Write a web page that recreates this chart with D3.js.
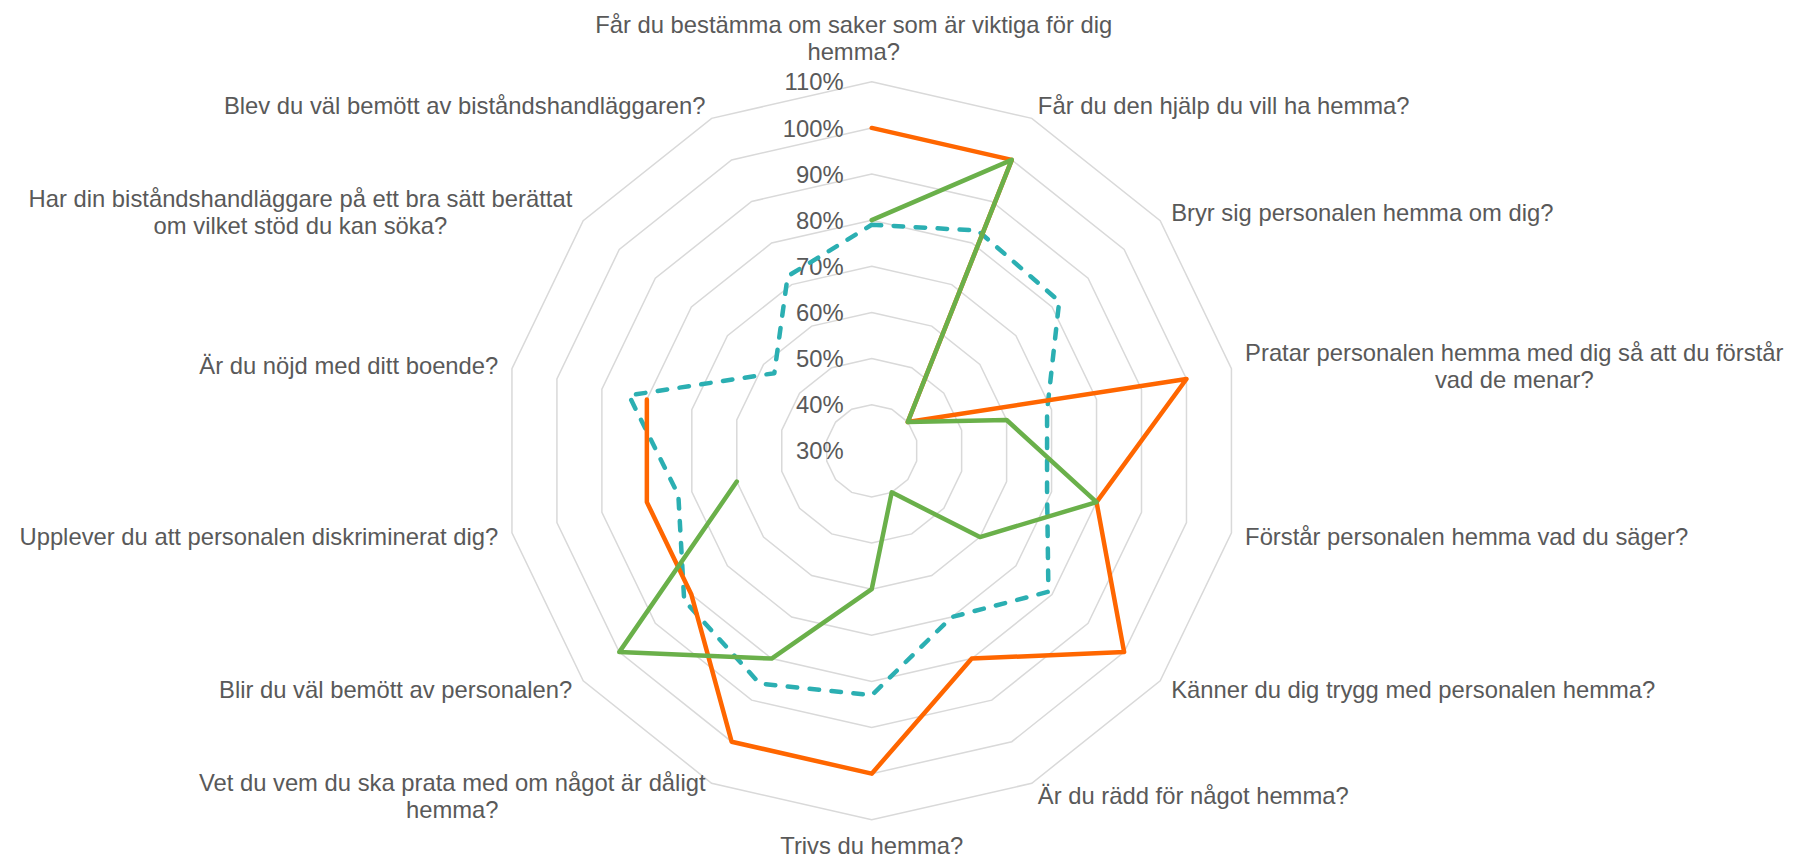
<!DOCTYPE html>
<html>
<head>
<meta charset="utf-8">
<script src="https://cdn.jsdelivr.net/npm/d3@7/dist/d3.min.js"></script>
<style>
  html, body { margin: 0; padding: 0; background: #ffffff; }
  svg { display: block; }
  text { font-family: "Liberation Sans", Arial, sans-serif; fill: #595959; }
</style>
</head>
<body>
<svg id="chart" width="1794" height="859"></svg>
<script>
// ---------- data ----------
const categories = [
  "Får du bestämma om saker som är viktiga för dig hemma?",
  "Får du den hjälp du vill ha hemma?",
  "Bryr sig personalen hemma om dig?",
  "Pratar personalen hemma med dig så att du förstår vad de menar?",
  "Förstår personalen hemma vad du säger?",
  "Känner du dig trygg med personalen hemma?",
  "Är du rädd för något hemma?",
  "Trivs du hemma?",
  "Vet du vem du ska prata med om något är dåligt hemma?",
  "Blir du väl bemött av personalen?",
  "Upplever du att personalen diskriminerat dig?",
  "Är du nöjd med ditt boende?",
  "Har din biståndshandläggare på ett bra sätt berättat om vilket stöd du kan söka?",
  "Blev du väl bemött av biståndshandläggaren?"
];
const seriesOrange = [100, 100, 40, 100, 80, 100, 80, 100, 100, 80, 80, 80, null, null];
const seriesGreen  = [80, 100, 40, 60, 80, 60, 40, 60, 80, 100, 60, null, null, null];
const seriesTeal   = [79, 83, 82, 69, 69, 79, 70, 83, 86, 82, 73, 84, 57, 72];
const tickValues   = [30, 40, 50, 60, 70, 80, 90, 100, 110];
const tickLabels   = ["30%", "40%", "50%", "60%", "70%", "80%", "90%", "100%", "110%"];

// ---------- layout ----------
const cx = 871.7, cy = 450.8, R = 369;
const fs = 23.8, lineH = 26.7;
const svg = d3.select("#chart");
const g = svg.append("g").attr("transform", `translate(${cx},${cy})`);

const n = categories.length;
const angle = d3.scaleLinear().domain([0, n]).range([0, 2 * Math.PI]);
const r = d3.scaleLinear().domain([30, 110]).range([0, R]);

// ---------- grid rings ----------
const ringLine = d3.lineRadial()
  .angle((d, i) => angle(i))
  .radius(d => r(d))
  .curve(d3.curveLinearClosed);

g.append("g").selectAll("path")
  .data(tickValues.filter(t => t > 30))
  .join("path")
  .attr("d", t => ringLine(d3.range(n).map(() => t)))
  .attr("fill", "none")
  .attr("stroke", "#D9D9D9")
  .attr("stroke-width", 1.5);

// ---------- tick labels ----------
g.append("g").selectAll("text")
  .data(tickValues)
  .join("text")
  .attr("x", -28)
  .attr("y", t => -r(t))
  .attr("dy", "0.36em")
  .attr("text-anchor", "end")
  .attr("font-size", fs)
  .text((t, i) => tickLabels[i]);

// ---------- series ----------
function seriesLine(closed) {
  return d3.lineRadial()
    .defined(d => d != null)
    .angle((d, i) => angle(i))
    .radius(d => r(d))
    .curve(closed ? d3.curveLinearClosed : d3.curveLinear);
}

g.append("path")
  .attr("d", seriesLine(true)(seriesTeal))
  .attr("fill", "none")
  .attr("stroke", "#2BAFB2")
  .attr("stroke-width", 4.5)
  .attr("stroke-linecap", "round")
  .attr("stroke-linejoin", "round")
  .attr("stroke-dasharray", "9.5 12.5");

g.append("path")
  .attr("d", seriesLine(false)(seriesOrange))
  .attr("fill", "none")
  .attr("stroke", "#FF6600")
  .attr("stroke-width", 4.5)
  .attr("stroke-linejoin", "round")
  .attr("stroke-linecap", "round");

g.append("path")
  .attr("d", seriesLine(false)(seriesGreen))
  .attr("fill", "none")
  .attr("stroke", "#6AB04A")
  .attr("stroke-width", 4.5)
  .attr("stroke-linejoin", "round")
  .attr("stroke-linecap", "round");

// ---------- category labels ----------
const measure = svg.append("text").attr("font-size", fs).attr("visibility", "hidden");
function textWidth(s) { measure.text(s); return measure.node().getComputedTextLength(); }
function wrap(s, maxW) {
  const words = s.split(" ");
  const lines = [];
  let cur = "";
  words.forEach(w => {
    const test = cur ? cur + " " + w : w;
    if (cur && textWidth(test) > maxW) { lines.push(cur); cur = w; }
    else cur = test;
  });
  if (cur) lines.push(cur);
  return lines;
}

const pad = 14;
const labelG = g.append("g");
categories.forEach((c, i) => {
  const a = angle(i);
  const sx = Math.sin(a), sy = -Math.cos(a);
  const ax = (R + pad) * sx, ay = (R + pad) * sy;
  const lines = wrap(c, 556);
  const widths = lines.map(textWidth);
  const bw = d3.max(widths);
  let centerX, firstLineY;
  if (Math.abs(sx) < 0.05) {
    centerX = ax + (sy < 0 ? -18 : 0);
    if (sy < 0) firstLineY = ay - 0.7 * fs - (lines.length - 1) * lineH;
    else firstLineY = ay + 0.48 * fs;
  } else {
    centerX = sx > 0 ? ax + bw / 2 : ax - bw / 2;
    firstLineY = ay - (lines.length - 1) * lineH / 2;
  }
  const t = labelG.append("text")
    .attr("font-size", fs)
    .attr("text-anchor", "middle");
  lines.forEach((ln, k) => {
    t.append("tspan")
      .attr("x", centerX)
      .attr("y", firstLineY + k * lineH)
      .attr("dy", "0.36em")
      .text(ln);
  });
});
measure.remove();
</script>
</body>
</html>
